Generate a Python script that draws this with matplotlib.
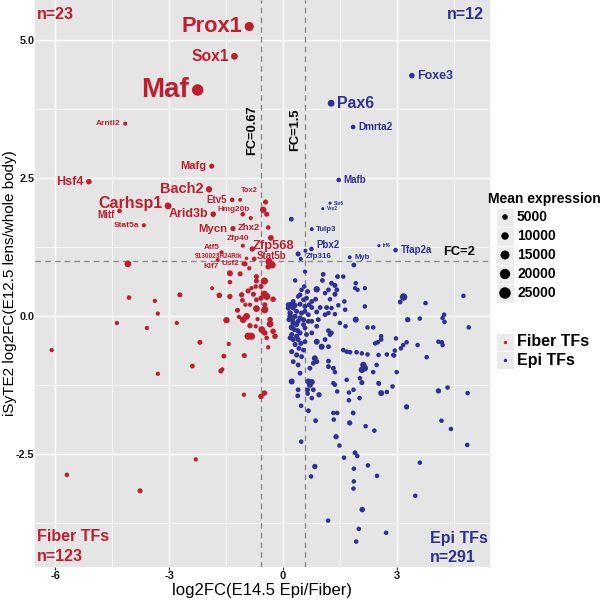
import numpy as np
import matplotlib
matplotlib.use("Agg")
import matplotlib.pyplot as plt
from matplotlib.patches import Rectangle
from matplotlib.ticker import FixedLocator, FormatStrFormatter

plt.rcParams['font.family'] = ['Liberation Sans', 'DejaVu Sans']
plt.rcParams['font.weight'] = 'bold'
plt.rcParams['axes.unicode_minus'] = False

RED = "#BF1E2E"
BLUE = "#2E3192"

# labelled fiber TFs
fiber_genes = ["Prox1", "Sox1", "Maf", "Arntl2", "Mafg", "Hsf4", "Bach2", "Carhsp1", "Mitf",
               "Arid3b", "Stat5a", "Etv5", "Tox2", "Hmg20b", "Mycn", "Zhx2", "Zfp40", "Zfp568",
               "Atf5", "9130023H24Rik", "Stat5b", "Klf7", "Usf2"]
fiber_gx = [-0.89, -1.28, -2.25, -4.16, -1.88, -5.12, -1.95, -3.03, -4.31,
            -1.84, -3.67, -1.34, -1.13, -0.85, -1.32, -0.39, -1.06, -0.32,
            -1.62, -0.96, -0.76, -1.72, -1.04]
fiber_gy = [5.24, 4.70, 4.09, 3.48, 2.71, 2.43, 2.29, 1.99, 1.90,
            1.84, 1.64, 2.10, 2.10, 1.77, 1.58, 1.60, 1.27, 1.41,
            1.15, 1.04, 1.03, 1.01, 0.94]
fiber_gexpr = [15700, 8000, 25200, 2270, 4030, 5100, 6900, 8330, 3090,
               5100, 2270, 3090, 1770, 2190, 4240, 2910, 2270, 5450,
               2190, 1390, 3090, 2120, 2190]

# labelled epi TFs
epi_genes = ["Foxe3", "Pax6", "Dmrta2", "Mafb", "Six6", "Vsx2", "Tulp3", "Pbx2", "Zfp316",
             "Irf6", "Tfap2a", "Myb"]
epi_gx = [3.40, 1.27, 1.85, 1.47, 1.24, 1.05, 0.76, 0.75, 0.47, 2.53, 2.97, 1.76]
epi_gy = [4.35, 3.85, 3.42, 2.46, 2.04, 1.94, 1.57, 1.21, 1.03, 1.27, 1.19, 1.06]
epi_gexpr = [5000, 8200, 3260, 3090, 770, 730, 2050, 3090, 2120, 820, 3090, 1900]

# remaining fiber TFs
fiber_x = [-1.40, -1.13, -0.70, -0.70, -0.49, -1.40, -1.87, -0.72, -0.58, -0.92, -0.83, -1.68,
           -1.40, -1.09, -0.78, -0.49, -0.43, -0.58, -0.26, -1.07, -0.99, -0.87, -0.70, -0.48,
           -0.70, -0.48, -1.20, -0.96, -1.16, -1.05, -0.67, -1.49, -0.34, -0.34, -0.87, -0.72,
           -0.56, -0.48, -0.26, -0.92, -0.83, -0.21, -0.43, -2.19, -1.43, -0.39, -1.02, -1.56,
           -2.39, -1.64, -1.60, -1.00, -0.89, -0.37, -0.28, -0.39,
           -0.46, -0.52, -0.43, -1.06, -0.81,
           -4.09, -4.06, -3.38, -3.30, -2.72, -4.38, -3.59, -2.80, -3.30, -6.10,
           -1.03, -0.58, -0.49, -2.30, -5.70, -3.77]
fiber_y = [0.77, 0.76, 0.71, 0.63, 0.63, 0.61, 0.50, 0.53, 0.53, 0.45, 0.50, 0.37,
           0.35, 0.38, 0.39, 0.39, 0.35, 0.32, 0.30, 0.28, 0.20, 0.20, 0.29, 0.20,
           0.13, 0.11, 0.10, -0.01, -0.02, -0.07, -0.06, -0.08, -0.07, -0.15, -0.18, -0.19,
           -0.25, -0.31, -0.28, -0.37, -0.37, -0.37, -0.40, -0.48, -0.51, -0.57, -0.72, -0.73,
           -0.91, -1.00, -0.97, 0.94, 0.86, 0.98, 0.92, 0.89,
           2.06, 1.92, 1.84, 1.84, 1.21,
           0.94, 0.33, 0.27, 0.04, 0.38, -0.13, -0.22, -0.13, -1.05, -0.62,
           -1.43, -1.46, -1.40, -2.60, -2.88, -3.17]
fiber_expr = [6000, 4000, 4000, 4000, 9000, 3000, 2000, 3000, 4000, 4000, 2500, 5000,
              4500, 4500, 4000, 9000, 9000, 4000, 5000, 3500, 2500, 2500, 3500, 4000,
              8000, 9000, 4000, 8000, 2500, 8000, 2500, 7000, 5000, 8000, 4500, 2500,
              8000, 5000, 5000, 9000, 9000, 5000, 3000, 4000, 2500, 2500, 4000, 3500,
              3500, 4000, 2500, 4000, 2500, 9000, 8000, 5000,
              4000, 7000, 4000, 3000, 4500,
              8000, 3000, 2500, 2500, 4000, 2500, 2500, 2500, 2500, 2500,
              2500, 5000, 5000, 2500, 3000, 4000]

# remaining epi TFs
epi_x = [0.40, 0.59, 1.87, 0.22, 3.18,
         0.58, 1.06, 1.44, 1.59, 0.32, 1.04, 1.28, 1.92, 1.37, 0.56, 0.49, 0.89, 1.20, 1.42,
         1.90, 1.97, 2.16, 0.65, 1.11, 1.37, 0.40, 0.54, 0.86, 1.24, 1.62, 0.21, 0.32, 0.45,
         0.58, 0.76, 0.98, 1.15, 1.28, 1.46, 2.16, 1.64, 0.19, 0.19, 0.36, 0.49, 0.67, 0.89,
         1.11, 1.20, 1.37, 1.92, 0.93, 0.54, 0.76, 0.27, 0.36, 1.50, 1.65, 2.23, 2.38, 0.23,
         0.58, 0.89, 1.20, 1.24, 0.23, 0.45, 0.76, 1.28, 2.59, 2.59, 0.40, 0.47, 0.89, 1.11,
         2.43, 2.50, 0.32, 1.02, 1.20, 1.59, 1.68, 1.77, 1.94, 2.08, 2.23, 2.52, 2.74, 2.91,
         0.23, 0.36, 0.49, 0.84, 0.89, 0.80, 1.20, 0.27, 0.40, 1.20, 1.33, 2.12, 2.16, 2.08,
         2.47, 1.37, 0.71, 0.45, 1.68, 2.03, 2.38, 0.23, 0.67, 0.76, 1.33, 2.52,
         0.14, 0.14, 0.27, 0.16, 0.25, 0.32, 0.45, 0.40, 0.54, 0.30, 0.39, 0.19, 0.27, 0.36,
         0.42, 0.54, 0.58, 0.62, 0.67, 0.69, 0.76, 0.62, 0.45, 0.27, 0.58,
         0.71, 1.37, 2.08, 2.53, 2.89, 0.40, 0.65, 0.80, 0.39, 0.65, 0.76, 0.95, 1.43, 1.74,
         1.86, 2.59, 2.74, 2.02, 1.74, 0.48, 0.67, 1.33, 1.43, 1.85, 0.86, 1.34, 1.76, 2.18,
         2.41, 0.48, 1.40, 1.49, 1.90, 1.96, 1.61, 0.84, 1.87, 2.24, 2.48, 0.74, 1.87, 1.86,
         2.09,
         4.18, 4.43, 4.86, 3.61, 3.49, 1.19, 2.00, 2.72, 1.93,
         3.09, 3.76, 4.76, 3.29, 3.61, 4.25, 4.21, 4.26, 4.90, 2.98, 3.26, 3.17, 3.11, 2.95,
         2.93, 3.55, 4.10, 4.19, 4.21, 3.79, 3.00, 4.10, 4.34, 4.87, 3.26]
epi_y = [1.12, 1.18, 0.92, 1.75, 0.34,
         0.80, 0.75, 0.71, 0.71, 0.64, 0.64, 0.59, 0.59, 0.55, 0.53, 0.47, 0.48, 0.47, 0.47,
         0.50, 0.47, 0.50, 0.44, 0.41, 0.39, 0.35, 0.29, 0.30, 0.30, 0.26, 0.20, 0.19, 0.21,
         0.17, 0.15, 0.15, 0.15, 0.14, 0.19, 0.17, 0.11, 0.05, -0.01, 0.08, 0.05, 0.02, 0.07,
         0.02, 0.05, 0.03, -0.07, -0.07, -0.07, -0.10, -0.13, -0.16, -0.13, -0.19, -0.21, -0.21, -0.21,
         -0.22, -0.19, -0.27, -0.34, -0.34, -0.31, -0.31, -0.31, -0.37, -0.43, -0.43, -0.50, -0.47, -0.43,
         -0.50, -0.48, -0.52, -0.56, -0.56, -0.62, -0.65, -0.66, -0.66, -0.68, -0.70, -0.71, -0.70, -0.71,
         -0.65, -0.71, -0.74, -0.77, -0.83, -0.86, -0.82, -0.83, -0.89, -0.92, -0.95, -0.89, -0.95, -0.98,
         -0.89, -1.02, -0.95, -1.04, -1.16, -1.13, -1.02, -1.19, -1.19, -1.20, -1.22, -1.22,
         0.20, 0.14, 0.14, -0.07, -0.07, -0.01, -0.04, -0.10, -0.16, -0.25, -0.27, -0.40, -0.43, -0.37,
         -0.59, -0.62, -0.47, -0.34, -0.10, 0.20, 0.26, 0.32, 0.38, 0.26, 0.08,
         -1.25, -1.25, -1.21, -1.23, -1.28, -1.34, -1.34, -1.34, -1.45, -1.41, -1.49, -1.43, -1.37, -1.39,
         -1.34, -1.40, -1.38, -1.49, -1.53, -1.63, -1.72, -1.76, -1.76, -1.76, -1.90, -1.88, -1.94, -2.00,
         -2.08, -2.28, -2.19, -2.35, -2.48, -2.54, -2.57, -2.73, -2.77, -2.71, -2.90, -2.91, -3.00, -3.13,
         -3.51,
         -1.90, -2.05, -2.34, -2.66, -3.26, -3.71, -3.86, -3.93, -4.09,
         0.25, 0.23, 0.36, -0.07, -0.05, 0.02, -0.04, -0.11, -0.21, -0.41, -0.48, -0.53, -0.59, -0.63,
         -0.72, -0.53, -0.47, -0.48, -0.53, -0.75, -1.02, -1.36, -1.30, -1.40, -1.65]
epi_expr = [4000, 2000, 3500, 3500, 10000,
            2500, 3500, 3500, 3000, 3000, 3500, 3500, 3000, 4000, 3000, 3000, 7000, 3500, 3500,
            2500, 2500, 2500, 3500, 3000, 4000, 3000, 3500, 3500, 3000, 3000, 6000, 4000, 4000,
            4000, 3500, 3500, 3500, 3000, 3000, 3000, 3000, 5000, 5000, 4000, 4000, 3500, 3500,
            3500, 3000, 3000, 6000, 3500, 4000, 3500, 5000, 4000, 3000, 3000, 3000, 3000, 6000,
            3500, 3500, 3500, 3500, 4000, 4000, 3500, 3000, 3000, 3000, 4000, 4000, 6000, 3500,
            3000, 3000, 4000, 6000, 3500, 3000, 3000, 3000, 3000, 3000, 3000, 3000, 3000, 3000,
            4000, 4000, 3500, 6000, 4000, 3500, 3500, 3500, 3500, 3500, 3500, 7000, 7000, 7000,
            3000, 3000, 3500, 3500, 3000, 3000, 3000, 6000, 6000, 6000, 3000, 3000,
            4000, 4000, 4000, 4000, 4000, 4000, 4000, 4000, 3500, 4000, 4000, 4000, 4000, 4000,
            3500, 3500, 3500, 3500, 3500, 3500, 3500, 3500, 3500, 3500, 3500,
            6000, 3000, 4000, 3000, 3000, 3500, 3500, 3500, 3500, 3000, 3000, 4500, 3000, 3000,
            3000, 6000, 3000, 3000, 3000, 3000, 3500, 3000, 3000, 3500, 3500, 3000, 4500, 3000,
            3000, 3000, 4500, 3000, 3500, 3000, 3000, 4500, 3000, 3000, 3000, 3000, 3000, 3000,
            5000,
            3000, 3000, 3000, 3000, 3000, 3000, 3000, 3000, 3000,
            3500, 3000, 3000, 4500, 3000, 3000, 3000, 3000, 3000, 3000, 3000, 3000, 3000, 3000,
            3000, 3000, 3000, 3000, 3000, 3000, 3000, 4500, 3000, 3000, 4500]

legend_expr = [5000, 10000, 15000, 20000, 25000]

# label placement tweaks: (ha, dx, dy) in points
nudge = {
    "Tox2": ("left", 0.7, 6.5),
    "Zfp40": ("right", 4.3, 5.0),
    "Hmg20b": ("right", -0.7, 6.5),
    "Zfp568": ("center", 2.0, -6.0),
    "Stat5b": ("left", 2.0, 2.0),
    "Atf5": ("right", -1.5, 3.6),
    "Klf7": ("right", 0.7, -5.0),
    "Mitf": ("right", None, -3.0),
    "Carhsp1": ("right", None, 2.0),
    "9130023H24Rik": ("right", None, 1.5),
    "Pbx2": ("left", None, 3.0),
    "Zfp316": ("left", None, 1.5),
    "Zhx2": ("right", -5.8, 0.0),
}


def size(expr):
    return 3 + 0.0026 * np.asarray(expr, dtype=float)


def label_size(expr):
    return 0.126 * np.sqrt(expr)


fig = plt.figure(figsize=(6, 6), dpi=100)
ax = fig.add_axes([35 / 600, 33 / 600, 455 / 600, 567 / 600])
ax.set_facecolor("#E5E5E5")
for s in ax.spines.values():
    s.set_visible(False)

ax.set_xlim(-6.54, 5.46)
ax.set_ylim(-4.55, 5.72)
ax.xaxis.set_major_locator(FixedLocator([-6, -3, 0, 3]))
ax.xaxis.set_minor_locator(FixedLocator([-4.5, -1.5, 1.5, 4.5]))
ax.yaxis.set_major_locator(FixedLocator([-2.5, 0, 2.5, 5.0]))
ax.yaxis.set_minor_locator(FixedLocator([-3.75, -1.25, 1.25, 3.75]))
ax.yaxis.set_major_formatter(FormatStrFormatter('%.1f'))
ax.grid(which='major', color='white', lw=1.0)
ax.grid(which='minor', color='white', lw=0.5)
ax.set_axisbelow(True)
ax.tick_params(which='major', length=2, width=0.8, color='#333333', pad=1,
               labelsize=8, labelcolor='#1a1a1a')
ax.tick_params(axis='y', which='major', length=0, pad=0.5, labelsize=7.8)
ax.tick_params(which='minor', length=0)

dash = dict(color='#8C8C8C', lw=1.0, ls=(0, (4, 3)), zorder=1.5)
ax.axvline(np.log2(0.67), **dash)
ax.axvline(np.log2(1.5), **dash)
ax.axhline(np.log2(2), **dash)

ax.scatter(fiber_x, fiber_y, s=size(fiber_expr), c=RED, lw=0, zorder=2)
ax.scatter(epi_x, epi_y, s=size(epi_expr), c=BLUE, lw=0, zorder=2)
ax.scatter(fiber_gx, fiber_gy, s=size(fiber_gexpr), c=RED, lw=0, zorder=2)
ax.scatter(epi_gx, epi_gy, s=size(epi_gexpr), c=BLUE, lw=0, zorder=2)


def put_labels(names, xs, ys, ex, color, side):
    for n, x, y, e in zip(names, xs, ys, ex):
        r = np.sqrt(size(e)) / 2
        ha = "right" if side < 0 else "left"
        dx = side * (r + 1.8)
        dy = 0.0
        if n in nudge:
            ha, ndx, dy = nudge[n]
            if ndx is not None:
                dx = ndx
        ax.annotate(n, xy=(x, y), xytext=(dx, dy), textcoords='offset points',
                    ha=ha, va='center', fontsize=label_size(e), color=color,
                    fontweight='bold', zorder=3)


put_labels(fiber_genes, fiber_gx, fiber_gy, fiber_gexpr, RED, -1)
put_labels(epi_genes, epi_gx, epi_gy, epi_gexpr, BLUE, 1)

ax.text(np.log2(0.67) - 0.24, 3.37, "FC=0.67", rotation=90, ha='center', va='center',
        fontsize=9.3, color='black')
ax.text(np.log2(1.5) - 0.27, 3.37, "FC=1.5", rotation=90, ha='center', va='center',
        fontsize=9.3, color='black')
ax.text(4.64, 1.16, "FC=2", ha='center', va='center', fontsize=9.3, color='black')

ax.text(0.005, 0.974, "n=23", transform=ax.transAxes, color=RED, fontsize=11.5,
        ha='left', va='center')
ax.text(0.987, 0.975, "n=12", transform=ax.transAxes, color=BLUE, fontsize=11.5,
        ha='right', va='center')
ax.text(0.005, 0.053, "Fiber TFs", transform=ax.transAxes, color=RED, fontsize=11.5,
        ha='left', va='center')
ax.text(0.005, 0.019, "n=123", transform=ax.transAxes, color=RED, fontsize=11.5,
        ha='left', va='center')
ax.text(0.868, 0.051, "Epi TFs", transform=ax.transAxes, color=BLUE, fontsize=11.5,
        ha='left', va='center')
ax.text(0.868, 0.017, "n=291", transform=ax.transAxes, color=BLUE, fontsize=11.5,
        ha='left', va='center')

ax.set_xlabel("log2FC(E14.5 Epi/Fiber)", fontsize=12, labelpad=1)
ax.set_ylabel("iSyTE2 log2FC(E12.5 lens/whole body)", fontsize=11)
ax.yaxis.set_label_coords(-0.04, 0.5)

# legends, drawn in pixel coordinates
lax = fig.add_axes([0, 0, 1, 1], facecolor='none')
lax.set_xlim(0, 600)
lax.set_ylim(600, 0)
lax.axis('off')

lax.text(488, 199, "Mean expression", fontsize=10, ha='left', va='center')
key_y = [217, 236, 255, 274, 293]
for yk in key_y:
    lax.add_patch(Rectangle((496, yk - 9.5), 18, 19, fc='#EBEBEB', ec='white', lw=0.8))
lax.scatter([505] * len(legend_expr), key_y, s=size(legend_expr), c='black', lw=0)
for yk, v in zip(key_y, legend_expr):
    lax.text(517, yk, str(v), fontsize=10, ha='left', va='center')

col_y = [342, 360]
for yk, lab, col in zip(col_y, ["Fiber TFs", "Epi TFs"], [RED, BLUE]):
    lax.add_patch(Rectangle((496, yk - 9), 18, 18, fc='#EBEBEB', ec='white', lw=0.8))
    lax.scatter([505], [yk], s=6, c=col, lw=0)
    lax.text(517, yk, lab, fontsize=11.5, ha='left', va='center')

fig.savefig("out.png", dpi=100)
